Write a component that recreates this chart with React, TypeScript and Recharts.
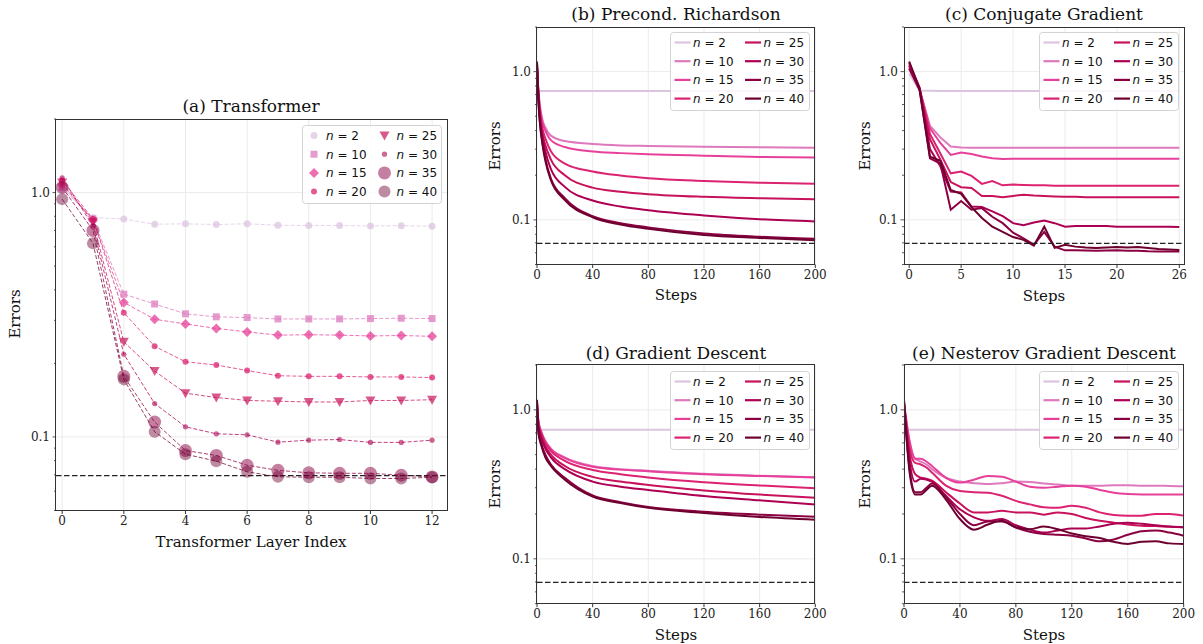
import React from "react";
import { LineChart, Line, XAxis, YAxis, CartesianGrid, ReferenceLine } from "recharts";

const SERIF = "'DejaVu Serif', serif";
const SANS = "'DejaVu Sans', sans-serif";

const N_VALUES = [2, 10, 15, 20, 25, 30, 35, 40];
const COLORS = ["#dcc4e0", "#de79be", "#e7409a", "#db2371", "#c8125b", "#ad0052", "#8c0042", "#6e0030"];

const TARGET_ERROR = 0.0695;
const Y_MAJOR = [0.1, 1];
const Y_MINOR = [0.05, 0.06, 0.07, 0.08, 0.09, 0.2, 0.3, 0.4, 0.5, 0.6, 0.7, 0.8, 0.9, 2];

// (a) transformer, one value per layer
const LAYERS = [0, 1, 2, 3, 4, 5, 6, 7, 8, 9, 10, 11, 12];
const TRANSFORMER_ERRORS = [
    [1.03, 0.79, 0.78, 0.742, 0.745, 0.74, 0.745, 0.735, 0.733, 0.733, 0.73, 0.732, 0.728],
    [1.05, 0.78, 0.384, 0.35, 0.319, 0.31, 0.308, 0.304, 0.304, 0.304, 0.305, 0.306, 0.305],
    [1.08, 0.77, 0.355, 0.303, 0.29, 0.278, 0.269, 0.261, 0.262, 0.261, 0.259, 0.26, 0.258],
    [1.12, 0.78, 0.322, 0.235, 0.203, 0.197, 0.187, 0.178, 0.177, 0.177, 0.176, 0.176, 0.175],
    [1.1, 0.76, 0.245, 0.186, 0.151, 0.145, 0.141, 0.14, 0.139, 0.139, 0.141, 0.141, 0.142],
    [1.15, 0.73, 0.218, 0.137, 0.11, 0.103, 0.102, 0.0952, 0.097, 0.0976, 0.095, 0.095, 0.097],
    [1.05, 0.7, 0.177, 0.115, 0.088, 0.084, 0.0766, 0.073, 0.0713, 0.071, 0.071, 0.0697, 0.0686],
    [0.94, 0.62, 0.172, 0.105, 0.085, 0.0796, 0.072, 0.0687, 0.0684, 0.0684, 0.0676, 0.0676, 0.0684],
];

// (b) preconditioned Richardson
const STEPS_RICH = [0, 1, 2, 4, 6, 10, 20, 40, 60, 80, 120, 160, 200];
const RICHARDSON_ERRORS = [
    [0.74, 0.74, 0.74, 0.74, 0.74, 0.74, 0.74, 0.74, 0.74, 0.74, 0.74, 0.74, 0.74],
    [1.05, 0.75, 0.6, 0.47, 0.42, 0.37, 0.34, 0.325, 0.318, 0.315, 0.311, 0.309, 0.307],
    [1.08, 0.74, 0.58, 0.45, 0.4, 0.345, 0.31, 0.289, 0.282, 0.277, 0.271, 0.266, 0.263],
    [1.12, 0.72, 0.55, 0.41, 0.355, 0.29, 0.24, 0.212, 0.199, 0.191, 0.183, 0.178, 0.175],
    [1.1, 0.7, 0.52, 0.38, 0.32, 0.255, 0.2, 0.165, 0.155, 0.149, 0.143, 0.14, 0.138],
    [1.15, 0.68, 0.5, 0.36, 0.29, 0.22, 0.167, 0.135, 0.123, 0.116, 0.107, 0.101, 0.0975],
    [1.05, 0.65, 0.47, 0.33, 0.26, 0.19, 0.14, 0.106, 0.095, 0.089, 0.081, 0.077, 0.0745],
    [1.17, 0.64, 0.46, 0.32, 0.25, 0.185, 0.136, 0.104, 0.093, 0.087, 0.079, 0.0755, 0.0728],
];

// (c) conjugate gradient
const STEPS_CG = [0, 1, 2, 3, 4, 5, 6, 7, 8, 9, 10, 11, 12, 13, 14, 15, 16, 17, 18, 19, 20, 21, 22, 23, 24, 25, 26];
const CG_ERRORS = [
    [0.97, 0.745, 0.742, 0.74, 0.74, 0.74, 0.74, 0.74, 0.74, 0.74, 0.74, 0.74, 0.74, 0.74, 0.74, 0.74, 0.74, 0.74, 0.74, 0.74, 0.74, 0.74, 0.74, 0.74, 0.74, 0.74, 0.74],
    [1.05, 0.76, 0.43, 0.36, 0.312, 0.308, 0.307, 0.307, 0.307, 0.307, 0.307, 0.307, 0.307, 0.307, 0.307, 0.307, 0.307, 0.307, 0.307, 0.307, 0.307, 0.307, 0.307, 0.307, 0.307, 0.307, 0.307],
    [1.08, 0.76, 0.415, 0.33, 0.274, 0.285, 0.278, 0.268, 0.26, 0.257, 0.258, 0.258, 0.258, 0.258, 0.258, 0.258, 0.258, 0.258, 0.258, 0.258, 0.258, 0.258, 0.258, 0.258, 0.258, 0.258, 0.258],
    [1.12, 0.77, 0.38, 0.28, 0.206, 0.212, 0.198, 0.175, 0.183, 0.171, 0.173, 0.172, 0.171, 0.171, 0.17, 0.17, 0.17, 0.17, 0.17, 0.17, 0.17, 0.17, 0.17, 0.17, 0.17, 0.17, 0.17],
    [1.1, 0.77, 0.35, 0.255, 0.18, 0.166, 0.164, 0.145, 0.145, 0.142, 0.145, 0.148, 0.146, 0.145, 0.144, 0.143, 0.143, 0.142, 0.142, 0.142, 0.142, 0.142, 0.142, 0.142, 0.142, 0.142, 0.142],
    [1.15, 0.78, 0.3, 0.23, 0.155, 0.153, 0.123, 0.122, 0.114, 0.106, 0.095, 0.092, 0.096, 0.099, 0.095, 0.09, 0.091, 0.091, 0.091, 0.091, 0.09, 0.09, 0.09, 0.09, 0.09, 0.09, 0.0895],
    [1.05, 0.75, 0.26, 0.24, 0.117, 0.134, 0.117, 0.12, 0.105, 0.095, 0.082, 0.075, 0.068, 0.083, 0.066, 0.0623, 0.0625, 0.0622, 0.062, 0.0622, 0.0625, 0.062, 0.062, 0.0615, 0.0613, 0.0612, 0.0612],
    [1.17, 0.76, 0.267, 0.25, 0.159, 0.15, 0.122, 0.103, 0.09, 0.083, 0.0766, 0.0733, 0.067, 0.09, 0.0647, 0.068, 0.066, 0.065, 0.0645, 0.065, 0.0655, 0.065, 0.0655, 0.0645, 0.0635, 0.063, 0.0626],
];

// (d) gradient descent
const STEPS_GD = [0, 1, 3, 6, 10, 20, 40, 60, 80, 120, 160, 200];
const GD_ERRORS = [
    [0.735, 0.735, 0.735, 0.735, 0.735, 0.735, 0.735, 0.735, 0.735, 0.735, 0.735, 0.735],
    [1.1, 0.85, 0.72, 0.62, 0.55, 0.48, 0.42, 0.4, 0.39, 0.372, 0.361, 0.353],
    [1.08, 0.84, 0.71, 0.61, 0.545, 0.475, 0.415, 0.397, 0.387, 0.37, 0.36, 0.352],
    [1.12, 0.82, 0.7, 0.6, 0.53, 0.455, 0.395, 0.37, 0.352, 0.327, 0.311, 0.298],
    [1.1, 0.8, 0.67, 0.57, 0.5, 0.42, 0.355, 0.33, 0.313, 0.288, 0.27, 0.257],
    [1.15, 0.78, 0.65, 0.55, 0.48, 0.4, 0.33, 0.305, 0.29, 0.264, 0.247, 0.232],
    [1.05, 0.72, 0.6, 0.5, 0.43, 0.35, 0.266, 0.24, 0.223, 0.207, 0.198, 0.192],
    [1.17, 0.7, 0.58, 0.48, 0.42, 0.34, 0.262, 0.237, 0.22, 0.203, 0.191, 0.183],
];

// (e) Nesterov gradient descent
const STEPS_NAG = [0, 4, 8, 12, 16, 20, 30, 40, 50, 60, 70, 80, 90, 100, 110, 120, 130, 140, 150, 160, 170, 180, 190, 200];
const NAG_ERRORS = [
    [0.735, 0.735, 0.735, 0.735, 0.735, 0.735, 0.735, 0.735, 0.735, 0.735, 0.735, 0.735, 0.735, 0.735, 0.735, 0.735, 0.735, 0.735, 0.735, 0.735, 0.735, 0.735, 0.735, 0.735],
    [1.1, 0.6, 0.47, 0.45, 0.43, 0.4, 0.35, 0.33, 0.322, 0.318, 0.322, 0.33, 0.328, 0.32, 0.315, 0.31, 0.31, 0.31, 0.312, 0.312, 0.31, 0.31, 0.308, 0.307],
    [1.12, 0.62, 0.47, 0.47, 0.45, 0.42, 0.35, 0.325, 0.34, 0.36, 0.355, 0.33, 0.305, 0.3, 0.305, 0.31, 0.305, 0.29, 0.278, 0.272, 0.27, 0.27, 0.27, 0.27],
    [1.12, 0.55, 0.44, 0.43, 0.41, 0.38, 0.31, 0.285, 0.28, 0.278, 0.265, 0.245, 0.232, 0.222, 0.22, 0.227, 0.22, 0.205, 0.197, 0.195, 0.195, 0.2, 0.2, 0.195],
    [1.1, 0.5, 0.37, 0.35, 0.345, 0.335, 0.28, 0.235, 0.205, 0.205, 0.21, 0.205, 0.205, 0.198, 0.205, 0.2, 0.188, 0.18, 0.175, 0.17, 0.167, 0.166, 0.164, 0.163],
    [1.15, 0.45, 0.33, 0.345, 0.34, 0.33, 0.265, 0.215, 0.19, 0.18, 0.185, 0.168, 0.157, 0.15, 0.155, 0.16, 0.16, 0.165, 0.172, 0.175, 0.172, 0.168, 0.165, 0.163],
    [1.05, 0.4, 0.28, 0.28, 0.3, 0.32, 0.26, 0.2, 0.168, 0.178, 0.178, 0.162, 0.152, 0.147, 0.145, 0.143, 0.137, 0.131, 0.135, 0.145, 0.153, 0.155, 0.15, 0.143],
    [1.17, 0.38, 0.27, 0.27, 0.29, 0.31, 0.25, 0.185, 0.157, 0.17, 0.18, 0.163, 0.158, 0.165, 0.158, 0.148, 0.142, 0.138, 0.13, 0.126, 0.13, 0.131, 0.127, 0.126],
];

const MARKER_SHAPES = ["circle", "square", "diamond", "circle", "triangle", "circle", "circle", "circle"];
const MARKER_SIZES = [3.5, 3.5, 5, 3, 5, 2.6, 6.5, 6];
const MARKER_OPACITY = [0.75, 0.75, 0.75, 0.75, 0.7, 0.6, 0.5, 0.45];

function Marker({ cx, cy, i }: { cx: number; cy: number; i: number }) {
    const s = MARKER_SIZES[i];
    const c = COLORS[i];
    const op = MARKER_OPACITY[i];
    const shape = MARKER_SHAPES[i];
    if (shape === "square") {
        return <rect x={cx - s} y={cy - s} width={2 * s} height={2 * s} fill={c} fillOpacity={op} />;
    }
    if (shape === "diamond") {
        return <polygon points={`${cx},${cy - s} ${cx + s},${cy} ${cx},${cy + s} ${cx - s},${cy}`} fill={c} fillOpacity={op} />;
    }
    if (shape === "triangle") {
        return <polygon points={`${cx - s},${cy - s * 0.8} ${cx + s},${cy - s * 0.8} ${cx},${cy + s}`} fill={c} fillOpacity={op} />;
    }
    return <circle cx={cx} cy={cy} r={s} fill={c} fillOpacity={op} />;
}

type PanelProps = {
    left: number;
    right: number;
    top: number;
    bottom: number;
    xDomain: [number, number];
    xTicks: number[];
    steps: number[];
    errors: number[][];
    markers?: boolean;
    curve?: "monotone" | "linear";
};

function Panel({ left, right, top, bottom, xDomain, xTicks, steps, errors, markers, curve }: PanelProps) {
    const padL = 60;
    const padT = 20;
    const padR = 20;
    const padB = 40;
    const plotW = right - left;
    const plotH = bottom - top;

    const yTick = (props: any) => {
        const { y, payload } = props;
        const v = payload.value;
        const major = Y_MAJOR.includes(v);
        return (
            <g>
                <line x1={padL - (major ? 3.5 : 2)} x2={padL} y1={y} y2={y} stroke="#333" strokeWidth={0.8} />
                {major && (
                    <text x={padL - 6} y={y} dy="0.35em" textAnchor="end" fill="#222" fontSize={12} fontFamily={SERIF}>
                        {v.toFixed(1)}
                    </text>
                )}
            </g>
        );
    };

    return (
        <div style={{ position: "absolute", left: left - padL, top: top - padT }}>
            <LineChart width={plotW + padL + padR} height={plotH + padT + padB} margin={{ top: padT, right: padR, bottom: 0, left: 0 }}>
                <CartesianGrid stroke="#ebebeb" horizontalValues={Y_MAJOR} verticalValues={xTicks} />
                <XAxis
                    type="number"
                    dataKey="x"
                    domain={xDomain}
                    allowDataOverflow
                    ticks={xTicks}
                    interval={0}
                    height={padB}
                    axisLine={false}
                    stroke="#333"
                    tickSize={3.5}
                    tickMargin={2}
                    tick={{ fill: "#222", fontSize: 12, fontFamily: SERIF }}
                />
                <YAxis
                    type="number"
                    scale="log"
                    domain={[0.05, 2]}
                    allowDataOverflow
                    ticks={[...Y_MINOR, ...Y_MAJOR].sort((a, b) => a - b)}
                    interval={0}
                    width={padL}
                    axisLine={false}
                    tickLine={false}
                    tick={yTick}
                />
                {errors.map((vals, i) => (
                    <Line
                        key={N_VALUES[i]}
                        data={steps.map((x, j) => ({ x, y: vals[j] }))}
                        dataKey="y"
                        type={markers ? "linear" : curve || "monotone"}
                        stroke={COLORS[i]}
                        strokeWidth={markers ? 1 : 2}
                        strokeOpacity={markers ? 0.75 : 1}
                        strokeDasharray={markers ? "4 2" : undefined}
                        dot={
                            markers
                                ? (p: any) => <Marker key={`m${i}-${p.index}`} cx={p.cx} cy={p.cy} i={i} />
                                : false
                        }
                        activeDot={false}
                        isAnimationActive={false}
                    />
                ))}
                <ReferenceLine y={TARGET_ERROR} stroke="#222" strokeWidth={1.3} strokeDasharray="5.5 2.5" />
            </LineChart>
            <div
                style={{
                    position: "absolute",
                    left: padL - 0.5,
                    top: padT - 0.5,
                    width: plotW + 1,
                    height: plotH + 1,
                    border: "1px solid #333",
                    boxSizing: "border-box",
                    pointerEvents: "none",
                }}
            />
        </div>
    );
}

function Legend8({ left, top, markers }: { left: number; top: number; markers?: boolean }) {
    return (
        <svg style={{ position: "absolute", left, top }} width={141} height={80}>
            <rect x={0.5} y={0.5} width={139} height={78} rx={3} fill="#fff" fillOpacity={0.85} stroke="#d3d3d3" />
            {N_VALUES.map((n, i) => {
                const col = Math.floor(i / 4);
                const row = i % 4;
                const x0 = col * 70.5;
                const cy = 10.5 + row * 18.7;
                return (
                    <g key={n}>
                        {markers ? (
                            <Marker cx={x0 + 12} cy={cy} i={i} />
                        ) : (
                            <line x1={x0 + 4.5} x2={x0 + 20.5} y1={cy} y2={cy} stroke={COLORS[i]} strokeWidth={2.2} />
                        )}
                        <text x={x0 + (markers ? 24 : 23)} y={cy} dy="0.36em" fontSize={12} fontFamily={SANS} fill="#111">
                            <tspan fontStyle="italic">n</tspan>
                            <tspan> = {n}</tspan>
                        </text>
                    </g>
                );
            })}
        </svg>
    );
}

function Txt({ x, y, size, children, rotate }: { x: number; y: number; size: number; children: React.ReactNode; rotate?: boolean }) {
    return (
        <div
            style={{
                position: "absolute",
                left: x,
                top: y,
                transform: `translate(-50%, -50%)${rotate ? " rotate(-90deg)" : ""}`,
                fontFamily: SERIF,
                fontSize: size,
                lineHeight: 1,
                whiteSpace: "nowrap",
                color: "#111",
            }}
        >
            {children}
        </div>
    );
}

export default function App() {
    return (
        <div style={{ position: "absolute", left: 0, top: 0, width: 1203, height: 644, background: "#fff", overflow: "hidden" }}>
            {/* (a) */}
            <Panel left={55.5} right={447} top={119} bottom={510.5} xDomain={[-0.2, 12.5]} xTicks={[0, 2, 4, 6, 8, 10, 12]} steps={LAYERS} errors={TRANSFORMER_ERRORS} markers />
            <Legend8 left={302} top={125} markers />
            <Txt x={251} y={105.5} size={17}>(a) Transformer</Txt>
            <Txt x={251} y={542} size={15}>Transformer Layer Index</Txt>
            <Txt x={15} y={314} size={15} rotate>Errors</Txt>

            {/* (b) */}
            <Panel left={536.7} right={815} top={27.1} bottom={264.6} xDomain={[0, 200]} xTicks={[0, 40, 80, 120, 160, 200]} steps={STEPS_RICH} errors={RICHARDSON_ERRORS} />
            <Legend8 left={670} top={32} />
            <Txt x={676} y={14} size={17}>(b) Precond. Richardson</Txt>
            <Txt x={676} y={295} size={15}>Steps</Txt>
            <Txt x={495} y={146} size={15} rotate>Errors</Txt>

            {/* (c) */}
            <Panel left={904} right={1184.5} top={27.1} bottom={264.6} xDomain={[-0.5, 26.5]} xTicks={[0, 5, 10, 15, 20, 26]} steps={STEPS_CG} errors={CG_ERRORS} curve="linear" />
            <Legend8 left={1038.5} top={32} />
            <Txt x={1044} y={14} size={17}>(c) Conjugate Gradient</Txt>
            <Txt x={1044} y={296} size={15}>Steps</Txt>
            <Txt x={865} y={146} size={15} rotate>Errors</Txt>

            {/* (d) */}
            <Panel left={536.7} right={815} top={364.5} bottom={603.2} xDomain={[0, 200]} xTicks={[0, 40, 80, 120, 160, 200]} steps={STEPS_GD} errors={GD_ERRORS} />
            <Legend8 left={670} top={370.5} />
            <Txt x={676} y={352.5} size={17}>(d) Gradient Descent</Txt>
            <Txt x={676} y={635} size={15}>Steps</Txt>
            <Txt x={495} y={484} size={15} rotate>Errors</Txt>

            {/* (e) */}
            <Panel left={904.3} right={1184} top={364.5} bottom={603.2} xDomain={[0, 200]} xTicks={[0, 40, 80, 120, 160, 200]} steps={STEPS_NAG} errors={NAG_ERRORS} />
            <Legend8 left={1038.5} top={370.5} />
            <Txt x={1044} y={352.5} size={17}>(e) Nesterov Gradient Descent</Txt>
            <Txt x={1044} y={635} size={15}>Steps</Txt>
            <Txt x={865} y={484} size={15} rotate>Errors</Txt>
        </div>
    );
}
